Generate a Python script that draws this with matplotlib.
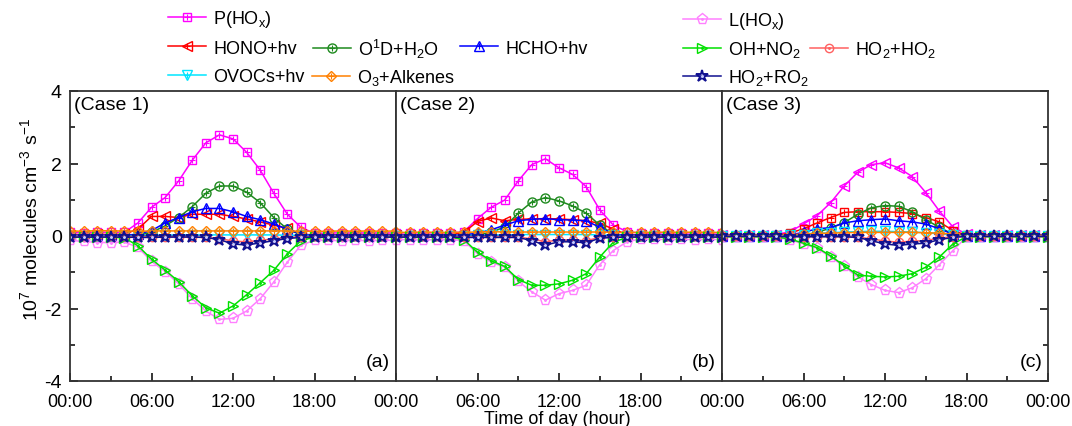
import matplotlib
matplotlib.use("Agg")
import matplotlib.pyplot as plt
from matplotlib.ticker import MultipleLocator

plt.rcParams['font.family'] = ['Liberation Sans', 'DejaVu Sans']
plt.rcParams['mathtext.default'] = 'regular'
plt.rcParams['axes.unicode_minus'] = False

# -----------------------------
# Data (10^7 molecules cm-3 s-1), hourly 00:00 - 24:00, one list per case
# -----------------------------
hours = list(range(25))

P_HOX = [
    [0.10, 0.09, 0.11, 0.10, 0.10, 0.36, 0.79, 1.06, 1.52, 2.09, 2.57, 2.79, 2.68, 2.31, 1.82, 1.18, 0.60, 0.24, 0.07, 0.08, 0.09, 0.08, 0.09, 0.08, 0.09],
    [0.08, 0.09, 0.08, 0.09, 0.08, 0.12, 0.48, 0.79, 0.99, 1.52, 1.97, 2.13, 1.88, 1.70, 1.36, 0.72, 0.30, 0.12, 0.08, 0.08, 0.09, 0.08, 0.09, 0.08, 0.09],
    [0.02, 0.02, 0.02, 0.02, 0.04, 0.12, 0.33, 0.56, 0.92, 1.38, 1.76, 1.97, 2.02, 1.88, 1.64, 1.20, 0.69, 0.25, 0.05, 0.02, 0.02, 0.02, 0.02, 0.02, 0.02],
]
HONO = [
    [0.04, 0.04, 0.05, 0.04, 0.05, 0.19, 0.54, 0.54, 0.51, 0.60, 0.60, 0.60, 0.54, 0.47, 0.39, 0.30, 0.21, 0.05, 0.03, 0.03, 0.04, 0.04, 0.04, 0.04, 0.04],
    [0.03, 0.03, 0.03, 0.03, 0.04, 0.10, 0.40, 0.50, 0.42, 0.46, 0.47, 0.48, 0.47, 0.45, 0.42, 0.35, 0.19, 0.04, 0.03, 0.03, 0.03, 0.03, 0.03, 0.03, 0.03],
    [0.01, 0.01, 0.01, 0.01, 0.02, 0.08, 0.20, 0.36, 0.51, 0.65, 0.67, 0.67, 0.67, 0.65, 0.62, 0.51, 0.39, 0.15, 0.02, 0.01, 0.01, 0.01, 0.01, 0.01, 0.01],
]
O1D_H2O = [
    [0.00, 0.00, 0.00, 0.00, 0.00, 0.02, 0.10, 0.28, 0.51, 0.81, 1.18, 1.38, 1.38, 1.21, 0.92, 0.51, 0.19, 0.03, 0.00, 0.00, 0.00, 0.00, 0.00, 0.00, 0.00],
    [0.00, 0.00, 0.00, 0.00, 0.00, 0.01, 0.03, 0.10, 0.25, 0.63, 0.94, 1.06, 0.97, 0.83, 0.63, 0.30, 0.05, 0.00, 0.00, 0.00, 0.00, 0.00, 0.00, 0.00, 0.00],
    [0.00, 0.00, 0.00, 0.00, 0.00, 0.01, 0.03, 0.10, 0.22, 0.37, 0.60, 0.78, 0.84, 0.82, 0.67, 0.45, 0.24, 0.05, 0.00, 0.00, 0.00, 0.00, 0.00, 0.00, 0.00],
]
HCHO = [
    [0.02, 0.02, 0.02, 0.02, 0.02, 0.05, 0.15, 0.36, 0.51, 0.67, 0.76, 0.76, 0.67, 0.54, 0.45, 0.33, 0.19, 0.05, 0.02, 0.02, 0.02, 0.02, 0.02, 0.02, 0.02],
    [0.02, 0.02, 0.02, 0.02, 0.02, 0.03, 0.08, 0.17, 0.30, 0.42, 0.46, 0.48, 0.45, 0.44, 0.42, 0.24, 0.05, 0.02, 0.02, 0.02, 0.02, 0.02, 0.02, 0.02, 0.02],
    [0.01, 0.01, 0.01, 0.01, 0.01, 0.03, 0.10, 0.20, 0.23, 0.36, 0.42, 0.45, 0.47, 0.42, 0.39, 0.33, 0.20, 0.05, 0.01, 0.01, 0.01, 0.01, 0.01, 0.01, 0.01],
]
OVOCS = [
    [0.01, 0.01, 0.01, 0.01, 0.01, 0.01, 0.02, 0.02, 0.03, 0.03, 0.03, 0.03, 0.03, 0.03, 0.03, 0.03, 0.02, 0.02, 0.01, 0.01, 0.01, 0.01, 0.01, 0.01, 0.01],
    [0.01, 0.01, 0.01, 0.01, 0.01, 0.01, 0.02, 0.03, 0.03, 0.04, 0.04, 0.04, 0.04, 0.04, 0.04, 0.03, 0.02, 0.01, 0.01, 0.01, 0.01, 0.01, 0.01, 0.01, 0.01],
    [0.01, 0.01, 0.01, 0.01, 0.01, 0.02, 0.04, 0.07, 0.09, 0.11, 0.12, 0.13, 0.13, 0.12, 0.11, 0.09, 0.06, 0.03, 0.01, 0.01, 0.01, 0.01, 0.01, 0.01, 0.01],
]
O3_ALKENES = [
    [0.14, 0.13, 0.15, 0.14, 0.14, 0.13, 0.14, 0.14, 0.14, 0.14, 0.14, 0.14, 0.14, 0.14, 0.14, 0.14, 0.14, 0.13, 0.13, 0.13, 0.14, 0.13, 0.14, 0.13, 0.14],
    [0.10, 0.10, 0.11, 0.10, 0.10, 0.10, 0.11, 0.12, 0.11, 0.11, 0.11, 0.11, 0.11, 0.11, 0.11, 0.11, 0.10, 0.10, 0.10, 0.10, 0.11, 0.10, 0.11, 0.10, 0.10],
    [0.03, 0.03, 0.03, 0.03, 0.03, 0.04, 0.05, 0.07, 0.08, 0.09, 0.10, 0.10, 0.10, 0.10, 0.10, 0.09, 0.08, 0.05, 0.03, 0.03, 0.03, 0.03, 0.03, 0.03, 0.03],
]
L_HOX = [
    [-0.12, -0.15, -0.18, -0.18, -0.17, -0.31, -0.70, -0.98, -1.32, -1.73, -2.07, -2.30, -2.27, -2.07, -1.73, -1.27, -0.72, -0.25, -0.12, -0.12, -0.13, -0.12, -0.13, -0.12, -0.12],
    [-0.10, -0.10, -0.11, -0.10, -0.10, -0.13, -0.49, -0.72, -0.86, -1.25, -1.54, -1.77, -1.59, -1.50, -1.36, -0.79, -0.40, -0.16, -0.08, -0.09, -0.10, -0.09, -0.10, -0.09, -0.10],
    [-0.03, -0.03, -0.03, -0.03, -0.04, -0.10, -0.22, -0.34, -0.58, -0.84, -1.13, -1.34, -1.50, -1.56, -1.43, -1.18, -0.79, -0.40, -0.03, -0.03, -0.03, -0.03, -0.03, -0.03, -0.03],
]
OH_NO2 = [
    [-0.03, -0.03, -0.03, -0.03, -0.05, -0.27, -0.64, -0.94, -1.26, -1.65, -1.98, -2.13, -1.93, -1.62, -1.29, -0.95, -0.49, -0.13, -0.03, -0.03, -0.03, -0.03, -0.03, -0.03, -0.03],
    [-0.03, -0.03, -0.03, -0.03, -0.03, -0.10, -0.45, -0.68, -0.84, -1.20, -1.36, -1.36, -1.32, -1.22, -1.04, -0.58, -0.17, -0.04, -0.03, -0.03, -0.03, -0.03, -0.03, -0.03, -0.03],
    [-0.02, -0.02, -0.02, -0.02, -0.03, -0.08, -0.20, -0.32, -0.55, -0.82, -1.08, -1.11, -1.13, -1.11, -1.04, -0.86, -0.58, -0.22, -0.02, -0.02, -0.02, -0.02, -0.02, -0.02, -0.02],
]
HO2_HO2 = [
    [-0.01, -0.01, -0.01, -0.01, -0.01, -0.02, -0.02, -0.02, -0.02, -0.03, -0.04, -0.07, -0.14, -0.16, -0.12, -0.08, -0.04, -0.02, -0.01, -0.01, -0.01, -0.01, -0.01, -0.01, -0.01],
    [-0.01, -0.01, -0.01, -0.01, -0.01, -0.02, -0.02, -0.02, -0.02, -0.03, -0.08, -0.16, -0.11, -0.11, -0.13, -0.04, -0.02, -0.01, -0.01, -0.01, -0.01, -0.01, -0.01, -0.01, -0.01],
    [-0.01, -0.01, -0.01, -0.01, -0.01, -0.01, -0.02, -0.02, -0.02, -0.02, -0.03, -0.08, -0.14, -0.17, -0.14, -0.13, -0.06, -0.02, -0.01, -0.01, -0.01, -0.01, -0.01, -0.01, -0.01],
]
HO2_RO2 = [
    [-0.03, -0.03, -0.03, -0.03, -0.03, -0.04, -0.04, -0.03, -0.03, -0.03, -0.04, -0.10, -0.22, -0.25, -0.19, -0.13, -0.07, -0.04, -0.03, -0.03, -0.03, -0.03, -0.03, -0.03, -0.03],
    [-0.03, -0.03, -0.03, -0.03, -0.03, -0.04, -0.04, -0.04, -0.04, -0.04, -0.13, -0.25, -0.16, -0.16, -0.19, -0.06, -0.04, -0.03, -0.03, -0.03, -0.03, -0.03, -0.03, -0.03, -0.03],
    [-0.01, -0.01, -0.01, -0.01, -0.01, -0.02, -0.02, -0.02, -0.02, -0.02, -0.04, -0.13, -0.22, -0.26, -0.22, -0.20, -0.10, -0.04, -0.01, -0.01, -0.01, -0.01, -0.01, -0.01, -0.01],
]

case_names = ["(Case 1)", "(Case 2)", "(Case 3)"]
panel_tags = ["(a)", "(b)", "(c)"]

# series: key, data, label, color, marker, marker size, edge width, centre mark, centre colour
series = [
    ("p_hox", P_HOX, r"P(HO$_x$)", "#FF00FF", "s", 6, 1.0, "+", "#FF00FF"),
    ("hono", HONO, "HONO+hv", "#FF0000", "<", 7, 1.0, "+", "#FF0000"),
    ("o1d", O1D_H2O, r"O$^1$D+H$_2$O", "#1E8A1E", "o", 6.5, 1.0, "+", "#1E8A1E"),
    ("hcho", HCHO, "HCHO+hv", "#0000FF", "^", 7, 1.0, "+", "#0000FF"),
    ("ovoc", OVOCS, "OVOCs+hv", "#00E5FF", "v", 7, 1.0, "+", "#00E5FF"),
    ("o3alk", O3_ALKENES, r"O$_3$+Alkenes", "#FF8000", "D", 5.5, 1.0, "+", "#FF8000"),
    ("l_hox", L_HOX, r"L(HO$_x$)", "#FF80FF", "p", 8, 1.0, ".", "#FF80FF"),
    ("ohno2", OH_NO2, r"OH+NO$_2$", "#00E000", ">", 7, 1.0, ".", "#00E000"),
    ("ho2ho2", HO2_HO2, r"HO$_2$+HO$_2$", "#FF6060", "o", 6, 1.0, ".", "#FF6060"),
    ("ho2ro2", HO2_RO2, r"HO$_2$+RO$_2$", "#101090", "*", 9, 1.4, ".", "#C8CCFF"),
]

# case 3 swaps the markers of P(HOx) and HONO+hv
case3_markers = {"p_hox": ("<", 7), "hono": ("s", 6)}

# legend slot of each entry: handle left edge and row centre, in pixels
legend_pos = {
    "p_hox": (168, 20),
    "hono": (168, 49),
    "o1d": (313, 49),
    "hcho": (460, 49),
    "ovoc": (168, 78),
    "o3alk": (312, 78),
    "l_hox": (683, 22),
    "ohno2": (683, 50),
    "ho2ho2": (810, 50),
    "ho2ro2": (683, 78),
}

# -----------------------------
# Figure
# -----------------------------
W, H = 1072, 427
fig = plt.figure(figsize=(W / 100, H / 100), dpi=100)

left = 70 / W
right = 1048 / W
bottom = 1 - 382 / H
top = 1 - 92 / H
width = (right - left) / 3

axes = []
for i in range(3):
    ax = fig.add_axes([left + i * width, bottom, width, top - bottom])
    axes.append(ax)

handles = {}

for i, ax in enumerate(axes):
    for key, data, label, color, marker, ms, mew, centre, ccolor in series:
        mk, size = marker, ms
        if i == 2 and key in case3_markers:
            mk, size = case3_markers[key]

        line, = ax.plot(
            hours,
            data[i],
            color=color,
            lw=1.1,
            marker=mk,
            ms=size,
            mfc="none",
            mec=color,
            mew=mew
        )

        cs = 5 if centre == "+" else 2.5
        dot, = ax.plot(
            hours,
            data[i],
            ls="none",
            marker=centre,
            ms=cs,
            color=ccolor,
            mew=0.8
        )

        if i == 0:
            handles[key] = ((line, dot), label)

    ax.set_xlim(0, 24)
    ax.set_ylim(-4, 4)
    ax.xaxis.set_minor_locator(MultipleLocator(3))
    ax.yaxis.set_major_locator(MultipleLocator(2))
    ax.yaxis.set_minor_locator(MultipleLocator(1))

    ax.set_xticks([0, 6, 12, 18, 24])
    if i == 0:
        ax.set_xticklabels(["00:00", "06:00", "12:00", "18:00", "00:00"])
    else:
        ax.set_xticklabels(["", "06:00", "12:00", "18:00", "00:00"])

    ax.tick_params(axis="x", which="both", direction="in", top=False, bottom=True,
                   labelsize=13, pad=9)
    ax.tick_params(axis="x", which="major", length=6, width=1.1)
    ax.tick_params(axis="x", which="minor", length=3.5, width=1.1)

    if i == 0:
        ax.tick_params(axis="y", which="both", direction="in", left=True, right=False,
                       labelleft=True, labelsize=14, pad=6)
    elif i == 1:
        ax.tick_params(axis="y", which="both", left=False, right=False, labelleft=False)
    else:
        ax.tick_params(axis="y", which="both", direction="in", left=False, right=True,
                       labelleft=False, labelright=False)
    ax.tick_params(axis="y", which="major", length=6, width=1.1)
    ax.tick_params(axis="y", which="minor", length=3.5, width=1.1)

    for sp in ax.spines.values():
        sp.set_color("#333333")
        sp.set_linewidth(1.3)

    ax.text(0.012, 0.955, case_names[i], transform=ax.transAxes,
            fontsize=14, ha="left", va="center")
    ax.text(0.982, 0.066, panel_tags[i], transform=ax.transAxes,
            fontsize=14, ha="right", va="center")

fig.text(0.028, 0.485, r"10$^7$ molecules cm$^{-3}$ s$^{-1}$",
         rotation=90, fontsize=14, ha="center", va="center")
fig.text(0.52, 0.018, "Time of day (hour)", fontsize=13, ha="center", va="center")

# -----------------------------
# Legend: one small legend per entry so the rows line up as in the original
# -----------------------------
for key, (px, py) in legend_pos.items():
    h, lab = handles[key]
    fig.legend(
        [h], [lab],
        loc="center left",
        bbox_to_anchor=(px / W, 1 - py / H),
        frameon=False,
        fontsize=13,
        handlelength=2.1,
        handletextpad=0.4,
        borderpad=0,
        borderaxespad=0,
        numpoints=1
    )

plt.savefig("out.png", dpi=100)
plt.close()
